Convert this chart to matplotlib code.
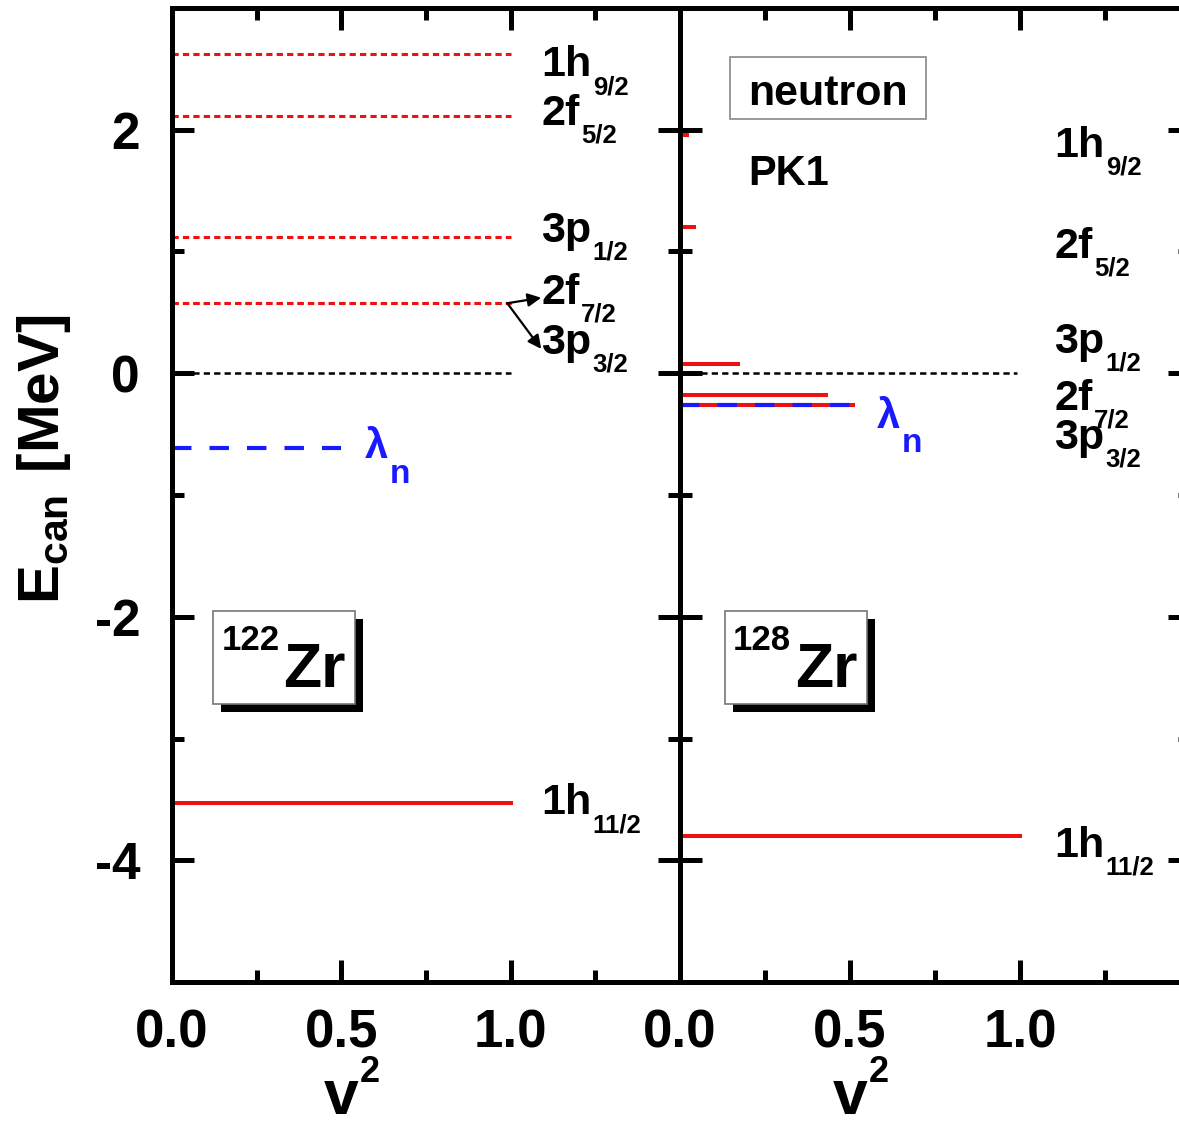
import matplotlib
matplotlib.use("Agg")
import matplotlib.pyplot as plt
from matplotlib.patches import Rectangle
from matplotlib.ticker import MultipleLocator, FixedLocator
import matplotlib.transforms as mtransforms

plt.rcParams['font.family'] = ['Liberation Sans', 'DejaVu Sans']
plt.rcParams['font.weight'] = 'bold'
plt.rcParams['mathtext.fontset'] = 'custom'
plt.rcParams['mathtext.rm'] = 'Liberation Sans'
plt.rcParams['mathtext.bf'] = 'Liberation Sans:bold'
plt.rcParams['lines.scale_dashes'] = False
plt.rcParams['axes.unicode_minus'] = False

# canonical single-particle levels (MeV) and occupation probabilities v^2
orbit_main = ["1h", "2f", "3p", "2f", "3p", "1h"]
orbit_sub = ["9/2", "5/2", "1/2", "7/2", "3/2", "11/2"]

zr122_energy = [2.62, 2.11, 1.12, 0.575, 0.575, -3.53]
zr122_v2 = [0.0, 0.0, 0.0, 0.0, 0.0, 1.0]
zr122_lambda = -0.61

zr128_energy = [1.96, 1.20, 0.08, -0.18, -0.26, -3.80]
zr128_v2 = [0.02, 0.04, 0.17, 0.43, 0.51, 1.0]
zr128_lambda = -0.26

# label baselines next to the levels
zr122_label_y = [2.44, 2.04, 1.08, 0.57, 0.16, -3.62]
zr128_label_y = [1.78, 0.95, 0.17, -0.30, -0.62, -3.97]

RED = '#ee1111'
BLUE = '#1a1aff'

fig = plt.figure(figsize=(11.79, 11.25), dpi=100)
ax1 = fig.add_axes([0.1459, 0.1271, 0.4309, 0.8658])
ax2 = fig.add_axes([0.5768, 0.1271, 0.4326, 0.8658])


def style_axes(ax, show_ylabels):
    ax.set_xlim(0, 1.5)
    ax.set_ylim(-5, 3)
    ax.xaxis.set_major_locator(FixedLocator([0.0, 0.5, 1.0]))
    ax.xaxis.set_minor_locator(MultipleLocator(0.25))
    ax.yaxis.set_major_locator(MultipleLocator(2))
    ax.yaxis.set_minor_locator(MultipleLocator(1))
    ax.set_xticklabels(['0.0', '0.5', '1.0'])
    for s in ax.spines.values():
        s.set_linewidth(3.6)
    ax.tick_params(which='both', direction='in', top=True, right=True, width=3.6)
    ax.tick_params(which='major', length=16)
    ax.tick_params(which='minor', length=8.5)
    ax.tick_params(axis='x', which='major', labelsize=38, pad=19)
    ax.tick_params(axis='y', which='major', labelsize=37, pad=23,
                   labelleft=show_ylabels)
    for lab in ax.get_xticklabels() + ax.get_yticklabels():
        lab.set_fontweight('bold')
    # v^2 axis title under x = 0.5
    tr = mtransforms.blended_transform_factory(ax.transData, ax.transAxes)
    v = ax.text(0.5, -0.136, 'v', transform=tr, fontsize=45,
                fontweight='bold', ha='center', va='baseline', clip_on=False)
    ax.annotate('2', xy=(1, 1), xycoords=v, xytext=(1, -10),
                textcoords='offset points', fontsize=26, fontweight='bold',
                ha='left', va='baseline', annotation_clip=False)


def level_label(ax, x, y, main, sub, size=31, subsize=18.5, dy=-6.5, color='k'):
    t = ax.text(x, y, main, fontsize=size, fontweight='bold', ha='left',
                va='baseline', color=color)
    ax.annotate(sub, xy=(1, 0), xycoords=t, xytext=(1, dy),
                textcoords='offset points', fontsize=subsize,
                fontweight='bold', ha='left', va='baseline', color=color)
    return t


def nucleus_box(ax, x0, w, mass, zr_x, mass_x):
    shadow_tr = mtransforms.offset_copy(ax.transAxes, fig=fig, x=8, y=-8,
                                        units='dots')
    ax.add_patch(Rectangle((x0, 0.285), w, 0.096, transform=shadow_tr,
                           facecolor='k', edgecolor='k', lw=0, zorder=5))
    ax.add_patch(Rectangle((x0, 0.285), w, 0.096, transform=ax.transAxes,
                           facecolor='white', edgecolor='#777777', lw=1.2,
                           zorder=6))
    ax.text(zr_x, 0.303, 'Zr', transform=ax.transAxes, fontsize=45,
            fontweight='bold', ha='left', va='baseline', zorder=7)
    ax.text(mass_x, 0.341, mass, transform=ax.transAxes, fontsize=25,
            fontweight='bold', ha='left', va='baseline', zorder=7)


style_axes(ax1, True)
style_axes(ax2, False)

# 122Zr: resonant levels above threshold drawn dashed, bound level solid
for e, occ in zip(zr122_energy, zr122_v2):
    if occ == 0:
        ax1.plot([0, 1.0], [e, e], color=RED, lw=2.2, ls=(0, (4.5, 3)))
    else:
        ax1.plot([0, occ], [e, e], color=RED, lw=2.9)
ax1.plot([0, 1.0], [0, 0], color='k', lw=1.8, ls=(0, (4.5, 3)))
ax1.plot([0, 0.5], [zr122_lambda, zr122_lambda], color=BLUE, lw=3.0,
         ls=(0, (14, 13)))

for i in range(6):
    level_label(ax1, 1.09, zr122_label_y[i], orbit_main[i], orbit_sub[i])

# arrows from the degenerate 2f7/2 / 3p3/2 line to both labels
for tip_y in [0.62, 0.20]:
    ax1.annotate('', xy=(1.09, tip_y), xytext=(0.99, zr122_energy[3]),
                 arrowprops=dict(arrowstyle='-|>', color='k', lw=1.6,
                                 mutation_scale=20, shrinkA=0, shrinkB=0))

level_label(ax1, 0.57, zr122_lambda - 0.09, '\u03bb', 'n', size=30,
            subsize=24, dy=-11, color=BLUE)
nucleus_box(ax1, 0.081, 0.279, '122', 0.2185, 0.098)

ax1.set_ylabel(r'$\mathbf{E_{can}\ [MeV]}$', fontsize=42)
ax1.yaxis.set_label_coords(-0.195, 0.537)

# 128Zr: occupation lengths
for e, occ in zip(zr128_energy, zr128_v2):
    ax2.plot([0, occ], [e, e], color=RED, lw=2.9)
ax2.plot([0, 0.99], [0, 0], color='k', lw=1.8, ls=(0, (4.5, 3)))
ax2.plot([0, 0.5], [zr128_lambda, zr128_lambda], color=BLUE, lw=3.0,
         ls=(0, (14, 13)))

for i in range(6):
    level_label(ax2, 1.10, zr128_label_y[i], orbit_main[i], orbit_sub[i])

level_label(ax2, 0.58, zr128_lambda - 0.19, '\u03bb', 'n', size=30,
            subsize=24, dy=-11, color=BLUE)
nucleus_box(ax2, 0.088, 0.279, '128', 0.2255, 0.104)

ax2.add_patch(Rectangle((0.098, 0.886), 0.384, 0.064, transform=ax2.transAxes,
                        facecolor='white', edgecolor='#888888', lw=1.2,
                        zorder=6))
ax2.text(0.290, 0.900, 'neutron', transform=ax2.transAxes, fontsize=31,
         fontweight='bold', ha='center', va='baseline', zorder=7)
ax2.text(0.133, 0.818, 'PK1', transform=ax2.transAxes, fontsize=30,
         fontweight='bold', ha='left', va='baseline')

fig.savefig('out.png', dpi=100)
